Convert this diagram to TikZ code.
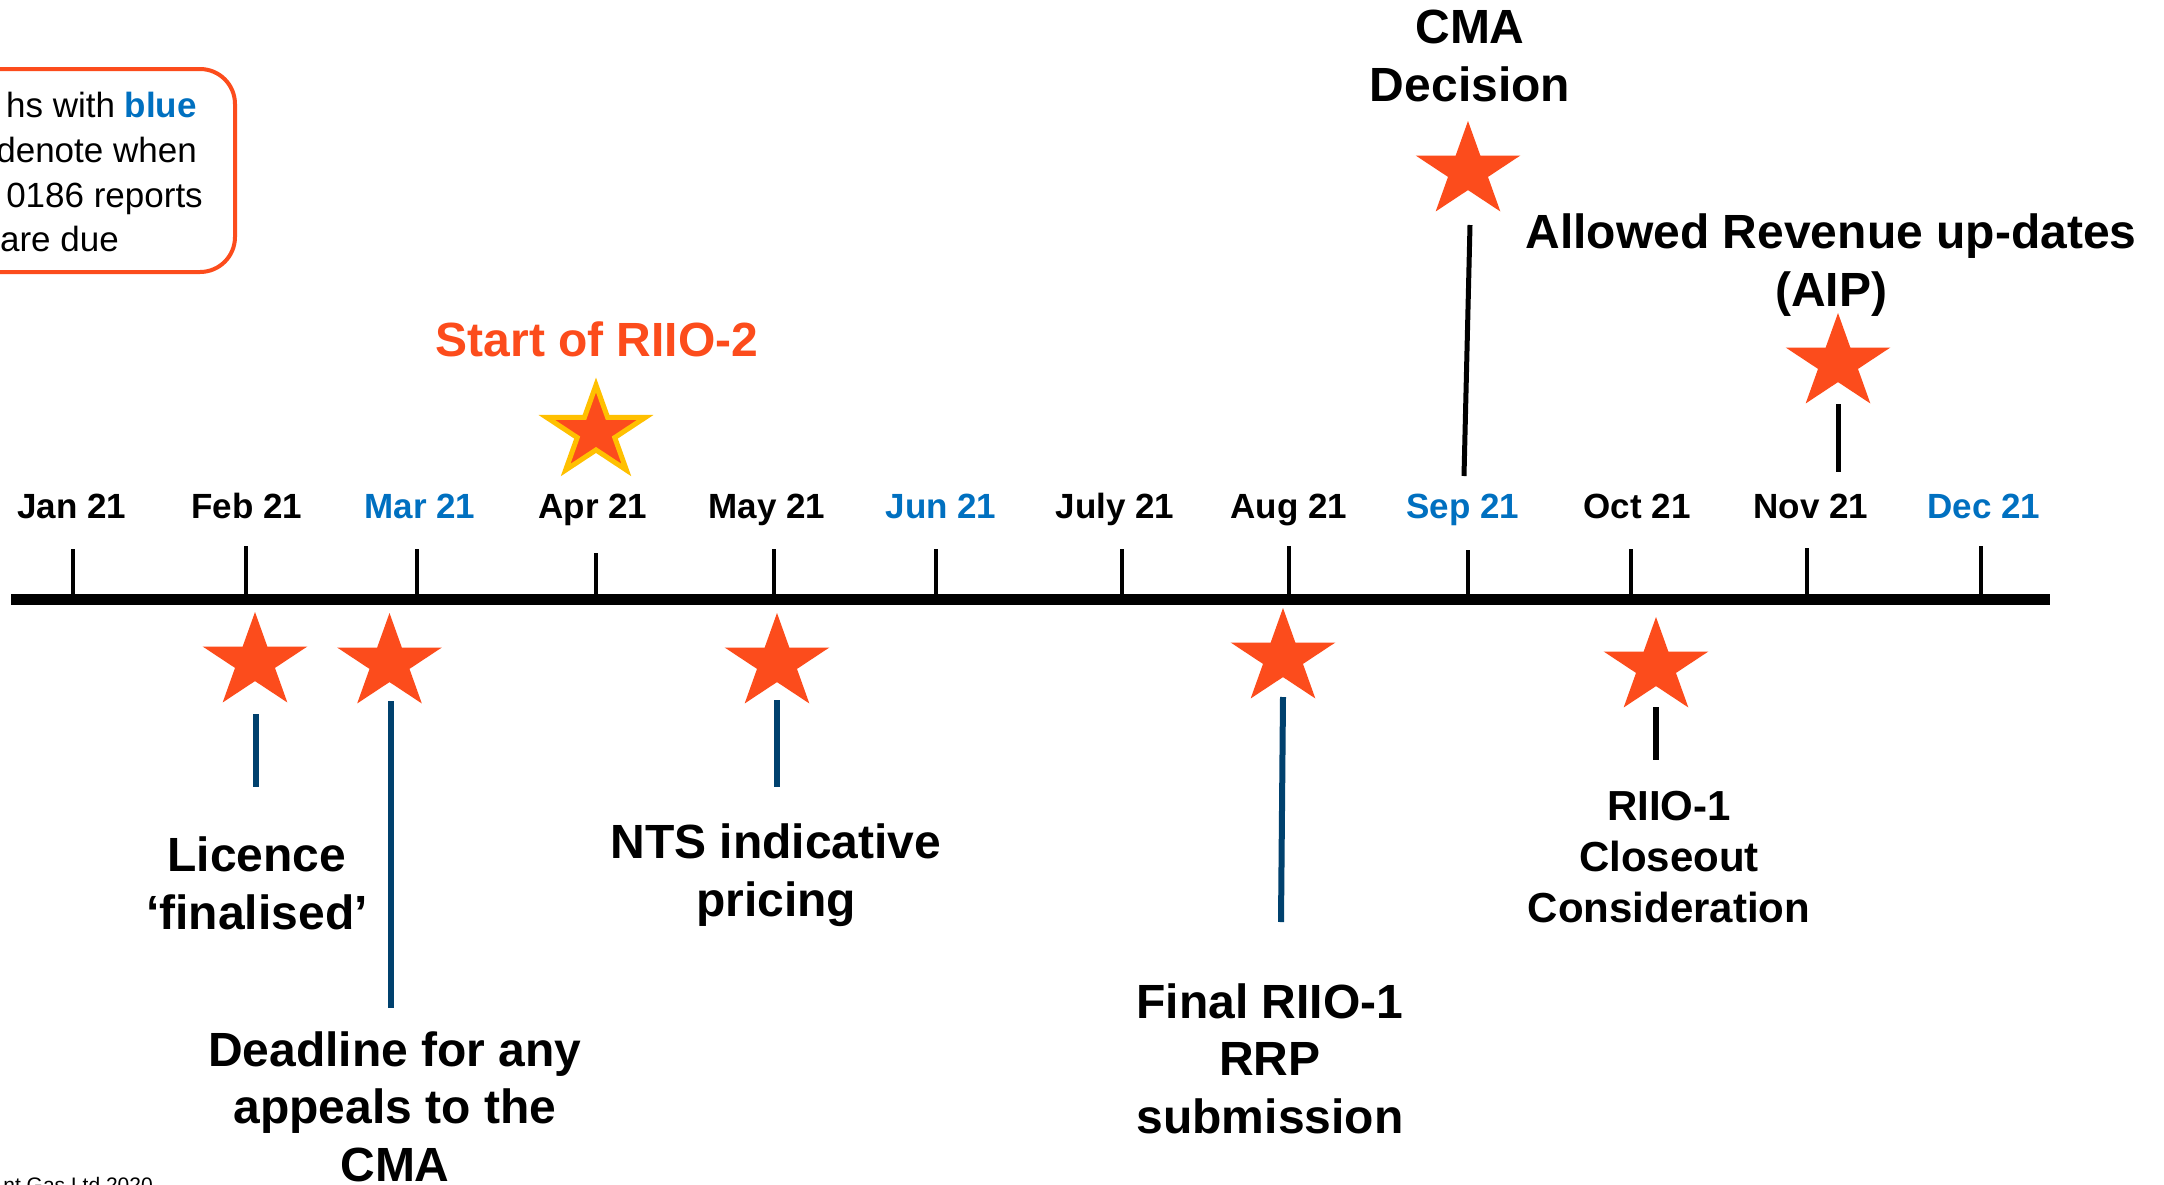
\documentclass[tikz,border=0pt]{standalone}
\usepackage{fontspec}
\setmainfont{Liberation Sans}
\definecolor{starorange}{RGB}{252,76,28}
\definecolor{monthblue}{RGB}{0,112,192}
\definecolor{stemblue}{RGB}{0,65,110}
\definecolor{stargold}{RGB}{255,192,0}
\tikzset{
  pics/evstar/.style={code={%
    \path[pic actions, xscale=1.1] (270:#1) -- (306:{0.382*#1}) -- (342:#1) -- (18:{0.382*#1}) -- (54:#1) -- (90:{0.382*#1}) -- (126:#1) -- (162:{0.382*#1}) -- (198:#1) -- (234:{0.382*#1}) -- cycle;}},
  month/.style={font=\fontsize{35}{42}\selectfont\bfseries, anchor=base, inner sep=0pt},
  evtlabel/.style={font=\fontsize{48}{57.5}\selectfont\bfseries, align=center, anchor=base, inner sep=0pt},
  smalllabel/.style={font=\fontsize{42}{51}\selectfont\bfseries, align=center, anchor=base, inner sep=0pt},
  boxtxt/.style={font=\fontsize{35}{42}\selectfont, anchor=base east, inner sep=0pt},
  tickline/.style={line width=4pt},
  axisline/.style={line width=11pt},
  bluestem/.style={draw=stemblue, line width=6pt},
  blackstem/.style={draw=black, line width=6pt},
  plainstar/.style={fill=starorange},
  goldstar/.style={fill=starorange, draw=stargold, line width=5pt, miter limit=10},
}
\begin{document}
\begin{tikzpicture}[x=1pt,y=-1pt]
\useasboundingbox (0,0) rectangle (2164,1184);
\clip (0,0) rectangle (2164,1184);
\fill[white] (0,0) rectangle (2164,1184);

% legend box (cut by left edge)
\draw[starorange, line width=4pt, rounded corners=35pt] (-120,69) rectangle (235,272);
\node[boxtxt] (bx1) at (197,117) {hs with \textcolor{monthblue}{\bfseries blue}};
\node[boxtxt] (bx2) at (197,162) {denote when};
\node[boxtxt] (bx3) at (203,207) {0186 reports};
\node[boxtxt] (bx4) at (119,251) {are due};

% copyright (cut by bottom edge)
\node[font=\fontsize{21}{25}\selectfont, anchor=base east, inner sep=0pt] (copy) at (153,1192) {nt Gas Ltd 2020};

% axis
\coordinate (axL) at (11,599);
\coordinate (axR) at (2050,599);
\draw[axisline] (axL) -- (axR);

% ticks and month labels
\foreach \n/\tx/\ty/\lx/\lab/\col in {
  jan/73/549/72/Jan 21/black,
  feb/246/546/247/Feb 21/black,
  mar/417/549/420/Mar 21/monthblue,
  apr/596/553/593/Apr 21/black,
  may/774/549/767/May 21/black,
  jun/936/549/941/Jun 21/monthblue,
  jul/1122/549/1115/July 21/black,
  aug/1289/546/1289/Aug 21/black,
  sep/1468/550/1463/Sep 21/monthblue,
  oct/1631/549/1637/Oct 21/black,
  nov/1807/548/1811/Nov 21/black,
  dec/1981/546/1984/Dec 21/monthblue}{
  \coordinate (t\n) at (\tx,\ty);
  \coordinate (b\n) at (\tx,599);
  \draw[tickline] (t\n) -- (b\n);
  \node[month, text=\col] (m\n) at (\lx,518) {\lab};
}

% Start of RIIO-2
\node[evtlabel, text=starorange] (start) at (597,356) {Start of RIIO-2};
\pic[goldstar] at (596,432) {evstar=47};

% CMA Decision (anchor = baseline of last line)
\node[evtlabel] (cma) at (1470,101) {CMA\\Decision};
\pic[plainstar] at (1468,171) {evstar=50};
\coordinate (cmaA) at (1470,225);
\coordinate (cmaB) at (1464,476);
\draw[blackstem, line width=5pt] (cmaA) -- (cmaB);

% Allowed Revenue up-dates (AIP)
\node[evtlabel] (aip) at (1831,306) {Allowed Revenue up-dates\\(AIP)};
\pic[plainstar] at (1838,363) {evstar=50};
\coordinate (aipA) at (1838,404);
\coordinate (aipB) at (1838,472);
\draw[blackstem, line width=5pt] (aipA) -- (aipB);

% below-axis events
\pic[plainstar] at (255,662) {evstar=50};
\coordinate (febA) at (256,714);
\coordinate (febB) at (256,787);
\draw[bluestem] (febA) -- (febB);
\node[evtlabel] (lic) at (257,929) {Licence\\‘finalised’};

\pic[plainstar] at (389.5,663) {evstar=50};
\coordinate (marA) at (391,701);
\coordinate (marB) at (391,1008);
\draw[bluestem] (marA) -- (marB);
\node[evtlabel] (dead) at (395,1181) {Deadline for any\\appeals to the\\CMA};

\pic[plainstar] at (777,663) {evstar=50};
\coordinate (mayA) at (777,700);
\coordinate (mayB) at (777,787);
\draw[bluestem] (mayA) -- (mayB);
\node[evtlabel] (nts) at (776,916) {NTS indicative\\pricing};

\pic[plainstar] at (1283,658) {evstar=50};
\coordinate (augA) at (1283,697);
\coordinate (augB) at (1281,922);
\draw[bluestem] (augA) -- (augB);
\node[evtlabel] (final) at (1270,1133) {Final RIIO-1\\RRP\\submission};

\pic[plainstar] at (1656,667) {evstar=50};
\coordinate (octA) at (1656,707);
\coordinate (octB) at (1656,760);
\draw[blackstem] (octA) -- (octB);
\node[smalllabel] (close) at (1669,922) {RIIO-1\\Closeout\\Consideration};
\end{tikzpicture}
\end{document}
